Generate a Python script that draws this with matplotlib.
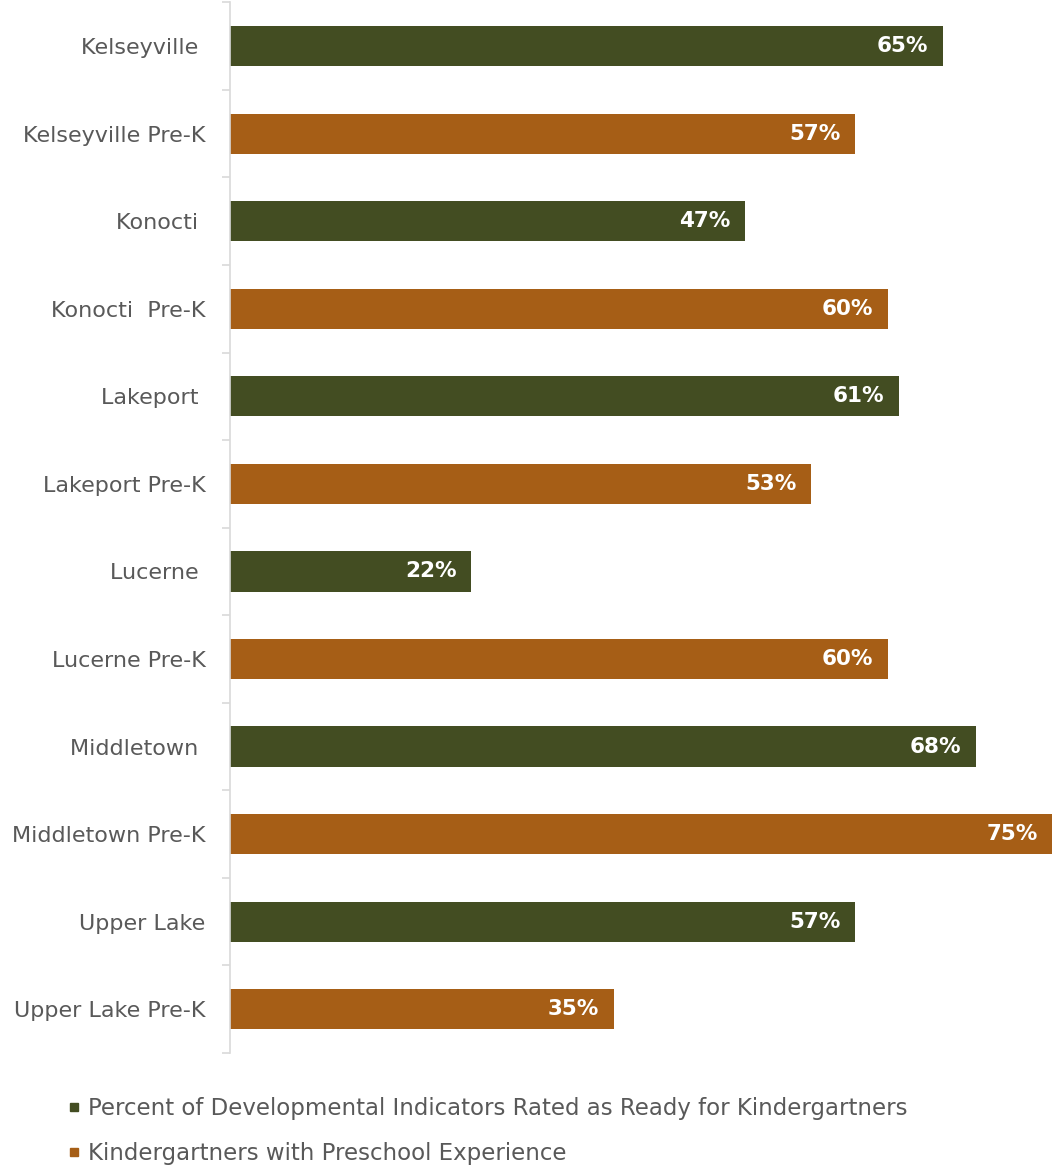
import matplotlib.pyplot as plt
from matplotlib.lines import Line2D

schools = ["Kelseyville ", "Kelseyville Pre-K", "Konocti ", "Konocti  Pre-K",
           "Lakeport ", "Lakeport Pre-K", "Lucerne ", "Lucerne Pre-K",
           "Middletown ", "Middletown Pre-K", "Upper Lake", "Upper Lake Pre-K"]
percent = [65, 57, 47, 60, 61, 53, 22, 60, 68, 75, 57, 35]
is_prek = [False, True, False, True, False, True, False, True, False, True, False, True]

green = "#434d22"
orange = "#a65e16"
legend_labels = ["Percent of Developmental Indicators Rated as Ready for Kindergartners",
                 "Kindergartners with Preschool Experience"]

plt.rcParams['font.family'] = ['DejaVu Sans']

fig = plt.figure(figsize=(10.6, 11.67), dpi=100)
ax = fig.add_axes([0.217, 0.0977, 0.783, 0.9003])

colors = [orange if p else green for p in is_prek]
ypos = list(range(len(schools)))
bars = ax.barh(ypos, percent, height=0.46, color=colors)

for bar, v in zip(bars, percent):
    ax.annotate(f"{v}%", (bar.get_width(), bar.get_y() + bar.get_height() / 2),
                xytext=(-10.5, 0), textcoords="offset points", ha="right", va="center",
                color="white", fontsize=15.5, fontweight="bold")

ax.set_xlim(0, 75.7)
ax.set_ylim(len(schools) - 0.5, -0.5)
ax.set_yticks(ypos)
ax.set_yticklabels(schools, fontsize=16, color="#595959")
ax.tick_params(axis="y", length=0, pad=17.5)
ax.set_yticks([i - 0.5 for i in range(len(schools) + 1)], minor=True)
ax.tick_params(axis="y", which="minor", length=6, color="#d9d9d9", width=1.2)
ax.set_xticks([])
for side in ["top", "right", "bottom"]:
    ax.spines[side].set_visible(False)
ax.spines["left"].set_color("#d9d9d9")
ax.spines["left"].set_linewidth(1.2)

handles = [Line2D([], [], marker="s", linestyle="", color=green, markersize=6),
           Line2D([], [], marker="s", linestyle="", color=orange, markersize=6)]
fig.legend(handles, legend_labels, loc="upper left", bbox_to_anchor=(0.056, 0.068),
           frameon=False, fontsize=16.5, labelcolor="#595959", handlelength=0.5,
           handletextpad=0.35, labelspacing=0.95, borderaxespad=0)

fig.savefig("out.png")
